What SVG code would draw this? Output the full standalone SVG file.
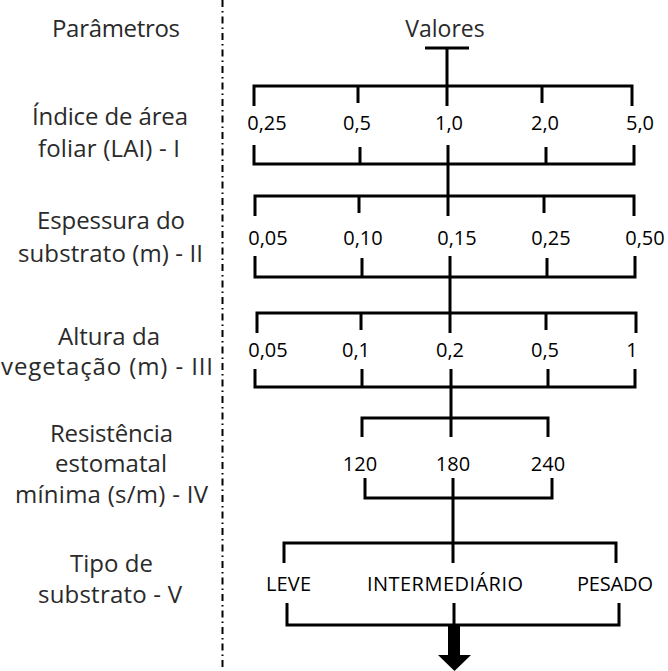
<svg xmlns="http://www.w3.org/2000/svg" width="668" height="671" viewBox="0 0 668 671">
<style>
.lbl{font-family:"Open Sans","Noto Sans",sans-serif;font-size:24px;fill:#2a2a2a;text-anchor:middle}
.val{font-family:"Open Sans","Noto Sans",sans-serif;font-size:20px;fill:#000;text-anchor:middle}
.ln{fill:none;stroke:#000;stroke-width:3;stroke-linejoin:miter;stroke-linecap:butt}
.sep{fill:none;stroke:#000;stroke-width:2;stroke-dasharray:7 4 1.5 4}
</style>
<rect width="668" height="671" fill="#fff"/>
<line class="sep" x1="222.5" y1="0" x2="222.5" y2="671"/>
<g id="params">
<text class="lbl" x="116" y="37" textLength="128" lengthAdjust="spacing">Parâmetros</text>
<text class="lbl" x="110" y="125" textLength="156" lengthAdjust="spacing">Índice de área</text>
<text class="lbl" x="109" y="157" textLength="142" lengthAdjust="spacing">foliar (LAI) - I</text>
<text class="lbl" x="111" y="229" textLength="148" lengthAdjust="spacing">Espessura do</text>
<text class="lbl" x="110.5" y="262" textLength="185" lengthAdjust="spacing">substrato (m) - II</text>
<text class="lbl" x="109" y="345" textLength="102" lengthAdjust="spacing">Altura da</text>
<text class="lbl" x="107" y="375" textLength="212" lengthAdjust="spacing">vegetação (m) - III</text>
<text class="lbl" x="111.5" y="442" textLength="123" lengthAdjust="spacing">Resistência</text>
<text class="lbl" x="111" y="472" textLength="112" lengthAdjust="spacing">estomatal</text>
<text class="lbl" x="111.5" y="503" textLength="193" lengthAdjust="spacing">mínima (s/m) - IV</text>
<text class="lbl" x="111.5" y="572" textLength="83" lengthAdjust="spacing">Tipo de</text>
<text class="lbl" x="110" y="603" textLength="144" lengthAdjust="spacing">substrato - V</text>
</g>
<g id="valores"><text class="lbl" x="445" y="37" style="font-size:23px">Valores</text></g>
<g id="connectors">
<path class="ln" d="M425,48 H469 M447,48 V106"/>
<path class="ln" d="M254,106 V86 H632 V106 M358,86 V103 M542,86 V103"/>
<path class="ln" d="M254,145 V164 H634 V145 M360,147 V164 M546,147 V164 M448,145 V216"/>
<path class="ln" d="M255,216 V196 H634 V216 M359,196 V213 M544,196 V213"/>
<path class="ln" d="M255,256 V277 H635 V256 M362,258 V277 M547,258 V277 M450,256 V333"/>
<path class="ln" d="M257,333 V313 H636 V333 M361,313 V330 M546,313 V330"/>
<path class="ln" d="M255,369 V387 H635 V369 M362,369 V387 M548,369 V387 M451,369 V437"/>
<path class="ln" d="M362,437 V418 H548 V437"/>
<path class="ln" d="M365,478 V498 H552 V478 M453,478 V563"/>
<path class="ln" d="M284,563 V543 H616 V563"/>
<path class="ln" d="M287,603 V625 H619 V603 M454,603 V625"/>
<polygon points="448,625 460,625 460,655 471,655 454.5,671 438,655 448,655" fill="#000"/>
</g>
<g id="g1">
<text class="val" x="267" y="130">0,25</text>
<text class="val" x="357" y="130">0,5</text>
<text class="val" x="449" y="130">1,0</text>
<text class="val" x="545" y="130">2,0</text>
<text class="val" x="640" y="130">5,0</text>
</g>
<g id="g2">
<text class="val" x="268" y="245">0,05</text>
<text class="val" x="363" y="245">0,10</text>
<text class="val" x="457" y="245">0,15</text>
<text class="val" x="551" y="245">0,25</text>
<text class="val" x="645" y="245">0,50</text>
</g>
<g id="g3">
<text class="val" x="268" y="357">0,05</text>
<text class="val" x="356" y="357">0,1</text>
<text class="val" x="450" y="357">0,2</text>
<text class="val" x="545" y="357">0,5</text>
<text class="val" x="632" y="357">1</text>
</g>
<g id="g4">
<text class="val" x="360" y="471">120</text>
<text class="val" x="453" y="471">180</text>
<text class="val" x="548" y="471">240</text>
</g>
<g id="g5">
<text class="val" x="288.5" y="591" textLength="45" lengthAdjust="spacing">LEVE</text>
<text class="val" x="445" y="591" textLength="156" lengthAdjust="spacing">INTERMEDIÁRIO</text>
<text class="val" x="615" y="591" textLength="76" lengthAdjust="spacing">PESADO</text>
</g>
</svg>
